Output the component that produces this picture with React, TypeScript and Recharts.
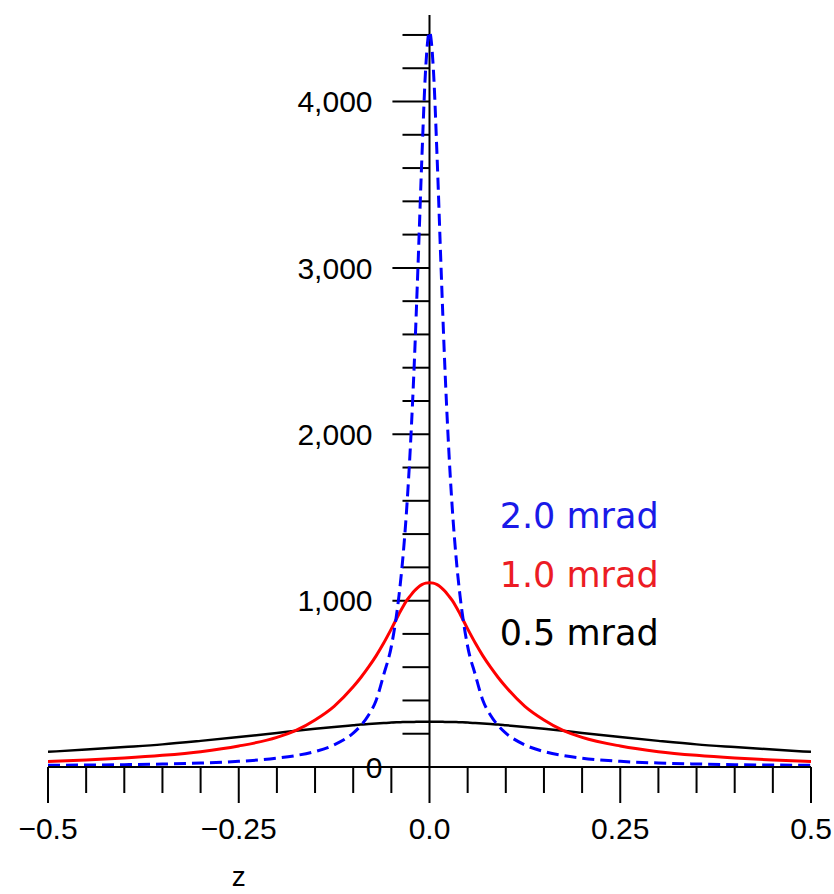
import { LineChart, Line, XAxis, YAxis, ReferenceLine, ReferenceDot } from 'recharts';

// sample positions along z
const zValues = [
  -0.5, -0.45, -0.4, -0.35, -0.3, -0.25, -0.2, -0.175, -0.15, -0.125, -0.1, -0.09,
  -0.08, -0.07, -0.06, -0.05, -0.04, -0.035, -0.03, -0.025, -0.02, -0.015, -0.01, -0.005,
  0,
  0.005, 0.01, 0.015, 0.02, 0.025, 0.03, 0.035, 0.04, 0.05, 0.06, 0.07, 0.08,
  0.09, 0.1, 0.125, 0.15, 0.175, 0.2, 0.25, 0.3, 0.35, 0.4, 0.45, 0.5,
];

// 2.0 mrad
const blue2mrad = [
  10, 12, 14, 18, 24, 34, 53, 69, 93, 133, 204, 249,
  311, 400, 555, 725, 1030, 1252, 1545, 1930, 2420, 3020, 3660, 4200,
  4420,
  4200, 3660, 3020, 2420, 1930, 1545, 1252, 1030, 725, 555, 400, 311,
  249, 204, 133, 93, 69, 53, 34, 24, 18, 14, 12, 10,
];

// 1.0 mrad
const red1mrad = [
  33, 42, 54, 70, 92, 126, 178, 220, 283, 365, 482, 538,
  600, 668, 745, 830, 920, 962, 1000, 1030, 1058, 1080, 1096, 1105,
  1108,
  1105, 1096, 1080, 1058, 1030, 1000, 962, 920, 830, 745, 668, 600,
  538, 482, 365, 283, 220, 178, 126, 92, 70, 54, 42, 33,
];

// 0.5 mrad
const black05mrad = [
  91, 105, 120, 136, 157, 180, 205, 218, 230, 241, 251, 255,
  258, 261, 264, 267, 269, 270, 270, 271, 271, 272, 272, 272,
  272,
  272, 272, 272, 271, 271, 270, 270, 269, 267, 264, 261, 258,
  255, 251, 241, 230, 218, 205, 180, 157, 136, 120, 105, 91,
];

const xTicks = [
  -0.5, -0.45, -0.4, -0.35, -0.3, -0.25, -0.2, -0.15, -0.1, -0.05, 0,
  0.05, 0.1, 0.15, 0.2, 0.25, 0.3, 0.35, 0.4, 0.45, 0.5,
];
const xMajorTicks = [-0.5, -0.25, 0, 0.25, 0.5];
const xTickLabels = ['\u22120.5', '\u22120.25', '0.0', '0.25', '0.5'];

const yTicks = [
  200, 400, 600, 800, 1000, 1200, 1400, 1600, 1800, 2000, 2200,
  2400, 2600, 2800, 3000, 3200, 3400, 3600, 3800, 4000, 4200, 4400,
];
const yMajorTicks = [0, 1000, 2000, 3000, 4000];
const yTickLabels = ['0', '1,000', '2,000', '3,000', '4,000'];

const seriesNames = ['2.0 mrad', '1.0 mrad', '0.5 mrad'];

const data = zValues.map((z, i) => ({
  z,
  b: blue2mrad[i],
  r: red1mrad[i],
  k: black05mrad[i],
}));

const TICK_FONT = '"Liberation Sans", Arial, Helvetica, sans-serif';
const NAME_FONT = '"DejaVu Sans", Verdana, sans-serif';

// y ticks hang off the left side of the centre axis (lengths in z units)
const MINOR_LEN = 0.0354;
const MAJOR_LEN = 0.0486;

const XTick = ({ x, y, payload }: any) => {
  const idx = xMajorTicks.findIndex((t) => Math.abs(t - payload.value) < 1e-9);
  const major = idx >= 0;
  return (
    <g>
      <line x1={x} x2={x} y1={y} y2={y + (major ? 36 : 26)} stroke="#000" strokeWidth={2} />
      {major && (
        <text x={x} y={y + 72} textAnchor="middle" fontSize={30} fontFamily={TICK_FONT} fill="#000">
          {xTickLabels[idx]}
        </text>
      )}
    </g>
  );
};

const AxisTitle = ({ viewBox }: any) => {
  if (!viewBox) return null;
  return (
    <text
      x={viewBox.x + viewBox.width * 0.25}
      y={viewBox.y + 119}
      textAnchor="middle"
      fontSize={28}
      fontFamily={TICK_FONT}
      fill="#000"
    >
      z
    </text>
  );
};

export default function App() {
  return (
    <div style={{ position: 'absolute', left: 0, top: 0, background: '#fff' }}>
      <LineChart
        width={834}
        height={894}
        data={data}
        margin={{ top: 15, right: 23, left: 48, bottom: 0 }}
      >
        <XAxis
          type="number"
          dataKey="z"
          domain={[-0.5, 0.5]}
          ticks={xTicks}
          interval={0}
          allowDataOverflow
          height={127}
          tickSize={0}
          tickMargin={0}
          tickLine={false}
          tick={(props: any) => <XTick {...props} />}
          axisLine={{ stroke: '#000', strokeWidth: 2 }}
          label={<AxisTitle />}
        />
        <YAxis hide type="number" domain={[0, 4520]} allowDataOverflow />

        <ReferenceLine x={0} stroke="#000" strokeWidth={2} />
        {yTicks.map((v) => {
          const len = yMajorTicks.includes(v) ? MAJOR_LEN : MINOR_LEN;
          return (
            <ReferenceLine
              key={`yt${v}`}
              segment={[{ x: -len, y: v }, { x: 0, y: v }]}
              stroke="#000"
              strokeWidth={2}
            />
          );
        })}
        {yMajorTicks.map((v, i) => (
          <ReferenceDot
            key={`yl${v}`}
            x={0}
            y={v}
            r={0}
            fill="none"
            stroke="none"
            label={{
              value: yTickLabels[i],
              position: 'left',
              offset: v === 0 ? 47 : 57,
              fontSize: 30,
              fontFamily: TICK_FONT,
              fill: '#000',
            }}
          />
        ))}

        <Line
          dataKey="k"
          type="monotone"
          stroke="#000"
          strokeWidth={2.5}
          dot={false}
          isAnimationActive={false}
        />
        <Line
          dataKey="r"
          type="monotone"
          stroke="#ff0000"
          strokeWidth={3}
          dot={false}
          isAnimationActive={false}
        />
        <Line
          dataKey="b"
          type="monotone"
          stroke="#0000ff"
          strokeWidth={3}
          strokeDasharray="12 6"
          dot={false}
          isAnimationActive={false}
        />

        <ReferenceDot
          x={0.092}
          y={1510}
          r={0}
          fill="none"
          stroke="none"
          label={{ value: seriesNames[0], position: 'right', offset: 0, fontSize: 35, fontFamily: NAME_FONT, fill: '#1a1ae8' }}
        />
        <ReferenceDot
          x={0.092}
          y={1155}
          r={0}
          fill="none"
          stroke="none"
          label={{ value: seriesNames[1], position: 'right', offset: 0, fontSize: 35, fontFamily: NAME_FONT, fill: '#ec1c24' }}
        />
        <ReferenceDot
          x={0.092}
          y={810}
          r={0}
          fill="none"
          stroke="none"
          label={{ value: seriesNames[2], position: 'right', offset: 0, fontSize: 35, fontFamily: NAME_FONT, fill: '#000' }}
        />
      </LineChart>
    </div>
  );
}
